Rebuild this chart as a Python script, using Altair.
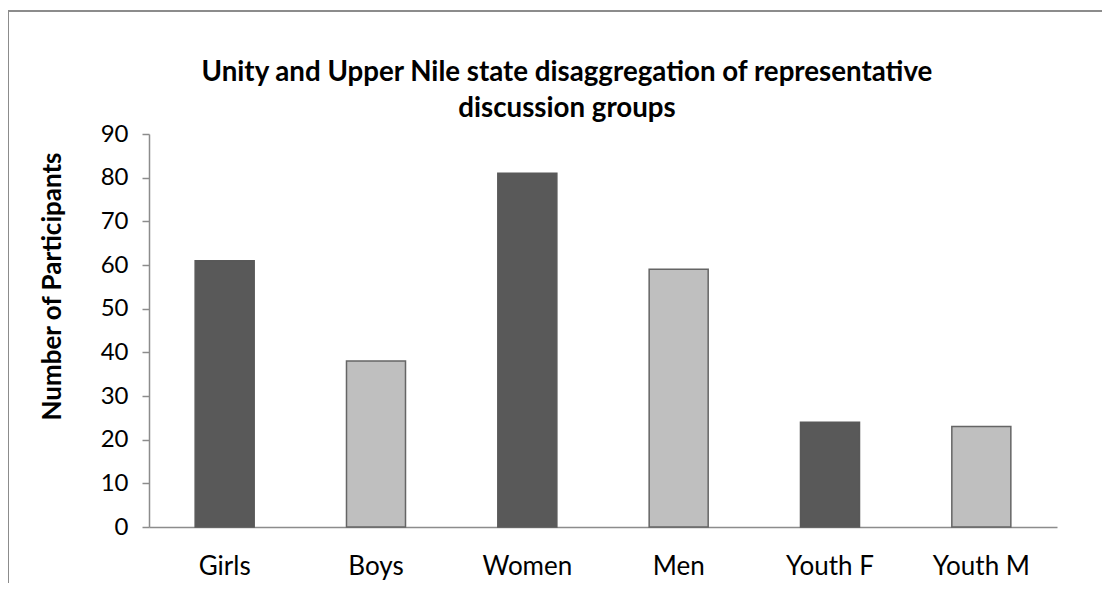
import altair as alt
import pandas as pd

categories = ["Girls", "Boys", "Women", "Men", "Youth F", "Youth M"]
participants = [61, 38, 81, 59, 24, 23]
y_ticks = [0, 10, 20, 30, 40, 50, 60, 70, 80, 90]
title_lines = ["Unity and Upper Nile state disaggregation of representative",
               "discussion groups"]
y_title = "Number of Participants"

DARK = "#595959"
LIGHT = "#BFBFBF"
FONT = "Lato"

df = pd.DataFrame({"category": categories, "value": participants})

fills = [DARK if i % 2 == 0 else LIGHT for i in range(len(categories))]
strokes = [DARK if i % 2 == 0 else "#656565" for i in range(len(categories))]

W, H = 908, 393

bars = alt.Chart(df).mark_bar(strokeWidth=1.5).encode(
    x=alt.X("category:N", sort=categories,
            scale=alt.Scale(paddingInner=0.61, paddingOuter=0.305),
            axis=alt.Axis(title=None, labelAngle=0, ticks=False, labelFontSize=26,
                          labelPadding=26, labelColor="#000000", labelFont=FONT,
                          domainColor="#8c8c8c", domainWidth=1.5)),
    y=alt.Y("value:Q", scale=alt.Scale(domain=[0, 90], nice=False),
            axis=alt.Axis(values=y_ticks, title=y_title, grid=False,
                          tickSize=7, tickColor="#8c8c8c", tickWidth=1.5,
                          domainColor="#8c8c8c", domainWidth=1.5,
                          labelFontSize=24, labelPadding=14, labelColor="#000000",
                          labelFont=FONT, titleFont=FONT, titleFontSize=26,
                          titleFontWeight="bold", titleColor="#000000",
                          titleX=-97, titleY=152, titleAngle=270,
                          titleAlign="center", titleBaseline="middle")),
    color=alt.Color("category:N", scale=alt.Scale(domain=categories, range=fills), legend=None),
    stroke=alt.Stroke("category:N", scale=alt.Scale(domain=categories, range=strokes), legend=None),
)

frame_top = alt.Chart(df).mark_rule(color="#8c8c8c", strokeWidth=1.5).encode(
    x=alt.value(-141), x2=alt.value(1000), y=alt.value(-123))
frame_left = alt.Chart(df).mark_rule(color="#8c8c8c", strokeWidth=1.5).encode(
    x=alt.value(-141), y=alt.value(-123), y2=alt.value(500))

title = alt.Chart(pd.DataFrame({"t": [0]})).mark_text(
    font=FONT, fontSize=27.7, fontWeight="bold", color="#000000",
    align="center", baseline="alphabetic", lineHeight=36,
).encode(x=alt.value(418), y=alt.value(-53), text=alt.value(title_lines))

chart = alt.layer(frame_top, frame_left, title, bars).properties(
    width=W, height=H,
    autosize=alt.AutoSizeParams(type="none"),
    padding={"left": 141, "top": 126, "right": 45, "bottom": 56},
).configure_view(stroke=None)

chart.save("out.html", embed_options={"renderer": "svg", "actions": False})
